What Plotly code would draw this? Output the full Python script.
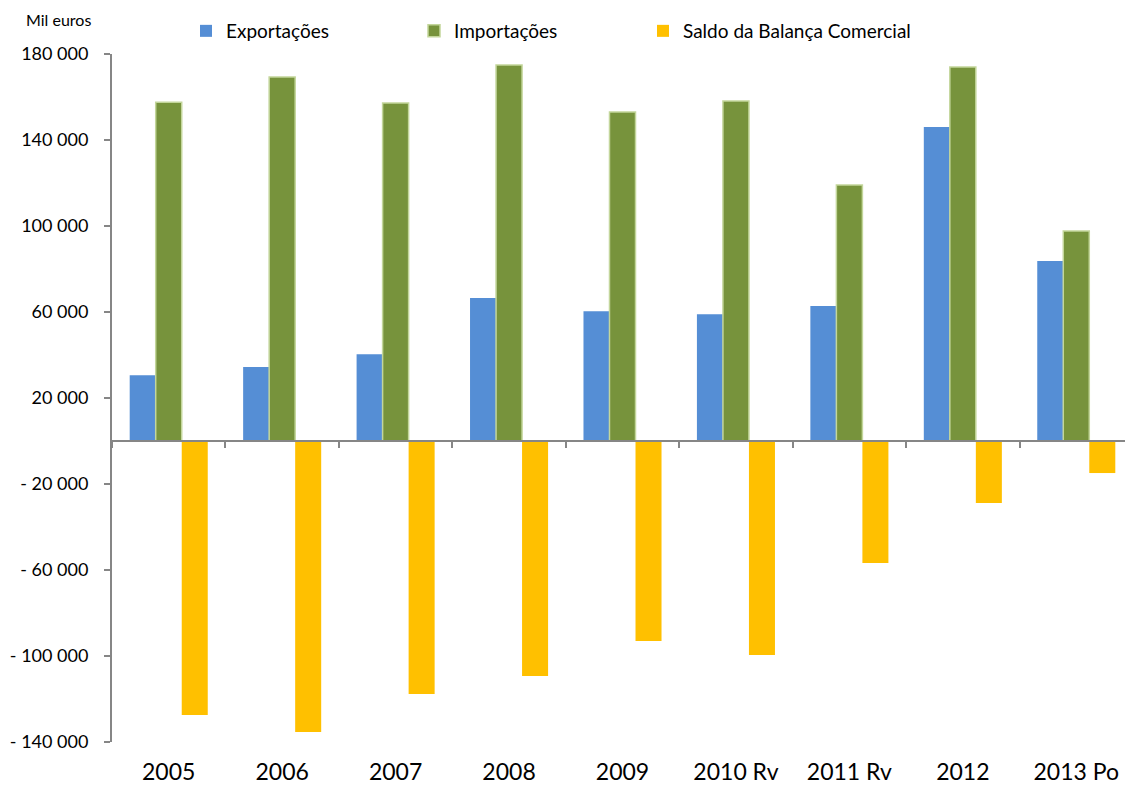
import plotly.graph_objects as go

categories = ["2005", "2006", "2007", "2008", "2009", "2010 Rv", "2011 Rv", "2012", "2013 Po"]
exportacoes = [30600, 34400, 40400, 66500, 60400, 59000, 62800, 146000, 83700]
importacoes = [157600, 169300, 157200, 174900, 153000, 158100, 119100, 173900, 97700]
saldo = [-127400, -135300, -117700, -109300, -93000, -99500, -56700, -28800, -14900]
y_ticks = [180000, 140000, 100000, 60000, 20000, -20000, -60000, -100000, -140000]


def fmt(v):
    s = f"{abs(v):,}".replace(",", " ")
    return ("- " + s) if v < 0 else s


FONT = "Lato"
OFF = 8  # page body margin offset
W, H = 1133 - OFF, 786 - OFF
ML, MR, MT, MB = 112 - OFF, 0, 54 - OFF, 44
pw = W - ML - MR
ph = H - MT - MB

fig = go.Figure()
fig.add_trace(go.Bar(name="Exportações", x=categories, y=exportacoes, legend="legend",
                     marker=dict(color="#558ED5", line=dict(width=0))))
fig.add_trace(go.Bar(name="Importações", x=categories, y=importacoes, legend="legend2",
                     marker=dict(color="#77933C", line=dict(color="#C3D69B", width=1.5))))
fig.add_trace(go.Bar(name="Saldo da Balança Comercial", x=categories, y=saldo, legend="legend3",
                     marker=dict(color="#FFC000", line=dict(width=0))))
# helper trace to draw category axis at zero
fig.add_trace(go.Scatter(x=categories, y=[0] * len(categories), xaxis="x2", yaxis="y",
                         mode="markers", marker=dict(opacity=0), showlegend=False,
                         hoverinfo="skip"))


def leg(px):
    return dict(orientation="h", x=(px - OFF - ML) / pw, xanchor="left",
                y=1 - (31 - OFF) / H, yref="container", yanchor="middle",
                font=dict(size=19, family=FONT), itemwidth=30,
                bgcolor="rgba(0,0,0,0)")


fig.update_layout(
    width=W, height=H,
    paper_bgcolor="white", plot_bgcolor="white",
    margin=dict(l=ML, r=MR, t=MT, b=MB, autoexpand=False),
    barmode="group", bargap=0.312, bargroupgap=0,
    font=dict(family=FONT, color="#000000"),
    showlegend=True,
    legend=leg(186), legend2=leg(414), legend3=leg(643),
    xaxis=dict(type="category", categoryorder="array", categoryarray=categories,
               showline=False, ticks="", showgrid=False, automargin=False,
               tickfont=dict(size=23, family=FONT), ticklabelstandoff=14),
    xaxis2=dict(type="category", categoryorder="array", categoryarray=categories,
                overlaying="x", matches="x", anchor="free", position=0.4375,
                showline=True, linecolor="#868686", linewidth=2,
                ticks="outside", tickson="boundaries", ticklen=6, tickcolor="#868686",
                tickwidth=2, showticklabels=False, showgrid=False, automargin=False),
    yaxis=dict(range=[-140000, 180000], tickvals=y_ticks,
               ticktext=[fmt(v) for v in y_ticks],
               showline=True, linecolor="#868686", linewidth=2,
               ticks="outside", ticklen=6, tickcolor="#868686", tickwidth=2,
               showgrid=False, zeroline=False, automargin=False,
               tickfont=dict(size=18, family=FONT), ticklabelstandoff=12),
    annotations=[dict(text="Mil euros", x=(24 - OFF - ML) / pw, y=(H - MB - (20 - OFF)) / ph,
                      xref="paper", yref="paper", xanchor="left", yanchor="middle",
                      showarrow=False, font=dict(size=16, family=FONT))],
)

fig.write_html("out.html")
